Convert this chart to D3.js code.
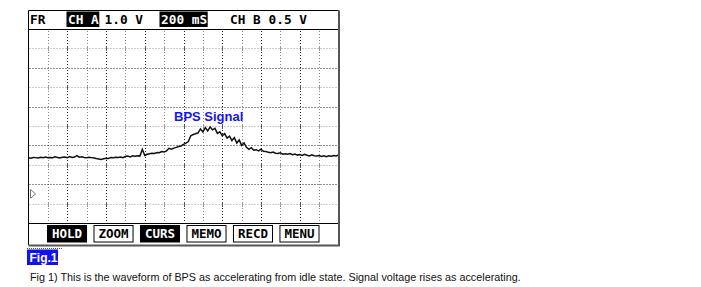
<!DOCTYPE html>
<html>
<head>
<meta charset="utf-8">
<script src="https://cdn.jsdelivr.net/npm/d3@7"></script>
<style>
  body { margin: 0; background: #fff; }
  svg { display: block; }
</style>
</head>
<body>
<div class="container"></div>
<script>
// scope settings
var msPerDiv = 200;
var numDivX = 16;
var header = [
    { text: "FR", x: 30, inv: false },
    { text: "CH A", x: 68, inv: true },
    { text: "1.0 V", x: 104.5, inv: false },
    { text: "200 mS", x: 161, inv: true },
    { text: "CH B 0.5 V", x: 230, inv: false }
];
var buttons = ["HOLD", "ZOOM", "CURS", "MEMO", "RECD", "MENU"];
var buttonOn = [true, false, true, false, false, false];

// BPS trace in volts, one sample every 25 ms (0 .. 3200 ms)
var sampleMs = 25;
var bpsVolts = [
    1.86, 1.84, 1.88, 1.87, 1.85, 1.89, 1.86, 1.90, 1.87, 1.88,
    1.86, 1.91, 1.88, 1.85, 1.89, 1.90, 1.87, 1.92, 1.88, 1.90,
    1.97, 1.89, 1.91, 1.88, 1.86, 1.89, 1.87, 1.85, 1.82, 1.80,
    1.78, 1.81, 1.84, 1.83, 1.87, 1.86, 1.89, 1.88, 1.90, 1.87,
    1.93, 1.95, 1.91, 1.96, 1.94, 1.97, 1.95, 2.30, 1.98, 2.04,
    2.07, 2.10, 2.08, 2.13, 2.12, 2.18, 2.16, 2.22, 2.35, 2.30,
    2.36, 2.40, 2.44, 2.47, 2.55, 2.62, 2.70, 3.00, 3.06, 3.10,
    3.15, 3.35, 3.20, 3.42, 3.25, 3.45, 3.30, 3.38, 3.12, 3.20,
    3.00, 3.10, 2.88, 2.98, 2.75, 2.90, 2.62, 2.78, 2.50, 2.62,
    2.40, 2.30, 2.38, 2.25, 2.28, 2.22, 2.30, 2.20, 2.18, 2.15,
    2.12, 2.16, 2.10, 2.08, 2.12, 2.05, 2.07, 2.04, 2.08, 2.02,
    2.05, 2.00, 2.03, 1.98, 2.04, 1.99, 1.96, 2.01, 1.97, 1.95,
    1.98, 1.93, 1.97, 1.92, 1.96, 1.94, 1.98, 1.95, 2.00
];
var gridVolts = [7.5, 6.5, 5.5, 4.5, 3.5, 2.5, 1.5, 0.5, -0.5];

var signalLabel = "BPS Signal";
var figLabel = "Fig.1";
var caption = "Fig 1) This is the waveform of BPS as accelerating from idle state. Signal voltage rises as accelerating.";

var width = 701, height = 287;
var frameL = 28.5, frameR = 338.5, frameT = 10.5, headBottom = 29, plotBottom = 223, frameB = 245;
var mono = "'DejaVu Sans Mono', monospace";

var svg = d3.select('.container')
    .append('svg')
    .attr('width', width)
    .attr('height', height)

var x = d3.scaleLinear().domain([0, msPerDiv * numDivX]).range([frameL, frameR]);
var y = d3.scaleLinear().domain([-1.5, 8.5]).range([plotBottom, headBottom]);

// screen background
svg.append('rect')
    .attr('x', frameL).attr('y', frameT)
    .attr('width', frameR - frameL).attr('height', frameB - frameT)
    .attr('fill', '#fff')

// grid
var grid = svg.append('g').attr('class', 'grid');
var vTicks = d3.range(msPerDiv, msPerDiv * numDivX, msPerDiv);

grid.selectAll('line.v')
    .data(vTicks)
    .enter().append('line')
    .attr('class', 'v')
    .attr('x1', function (d) { return Math.round(x(d)) + 0.5 })
    .attr('x2', function (d) { return Math.round(x(d)) + 0.5 })
    .attr('y1', headBottom + 2)
    .attr('y2', plotBottom)
    .attr('stroke', function (d, i) { return i % 2 == 0 ? '#888' : '#222' })
    .attr('stroke-width', 1)
    .attr('stroke-dasharray', '1,2')

grid.selectAll('line.h')
    .data(gridVolts)
    .enter().append('line')
    .attr('class', 'h')
    .attr('x1', frameL + 1)
    .attr('x2', frameR)
    .attr('y1', function (d) { return Math.round(y(d)) + 0.5 })
    .attr('y2', function (d) { return Math.round(y(d)) + 0.5 })
    .attr('stroke', function (d, i) { return i % 2 == 0 ? '#999' : '#222' })
    .attr('stroke-width', 1)
    .attr('stroke-dasharray', '1,2')

// little tick marks on the gray rows
gridVolts.forEach(function (v, i) {
    if (i % 2 != 0) return;
    grid.selectAll(null)
        .data(vTicks)
        .enter().append('line')
        .attr('x1', function (d) { return Math.round(x(d)) + 0.5 })
        .attr('x2', function (d) { return Math.round(x(d)) + 0.5 })
        .attr('y1', Math.round(y(v)) - 2)
        .attr('y2', Math.round(y(v)) + 3)
        .attr('stroke', function (d, j) { return j % 2 == 0 ? '#999' : '#555' })
})

// ground marker
var gy = y(0);
svg.append('path')
    .attr('d', 'M' + (frameL + 2) + ',' + (gy - 4.5) + 'L' + (frameL + 7) + ',' + gy + 'L' + (frameL + 2) + ',' + (gy + 4.5) + 'Z')
    .attr('fill', 'none')
    .attr('stroke', '#777')

// trace
var line = d3.line()
    .x(function (d, i) { return x(i * sampleMs) })
    .y(function (d) { return y(d) })

svg.append('path')
    .datum(bpsVolts)
    .attr('d', line)
    .attr('fill', 'none')
    .attr('stroke', '#111')
    .attr('stroke-width', 1.5)
    .attr('stroke-linejoin', 'miter')

svg.append('text')
    .attr('x', 174).attr('y', 120.5)
    .attr('font-family', 'Arial, "Liberation Sans", sans-serif')
    .attr('font-weight', 'bold')
    .attr('font-size', '13px')
    .attr('fill', '#1414f5')
    .text(signalLabel)

// header row
var head = svg.append('g');
header.forEach(function (h) {
    var w = h.text.length * 7.7;
    if (h.inv) {
        head.append('rect')
            .attr('x', h.x - 1.5).attr('y', 11.5)
            .attr('width', w + 2).attr('height', 15.5)
            .attr('fill', '#000')
    }
    head.append('text')
        .attr('x', h.x).attr('y', 23.5)
        .attr('font-family', mono)
        .attr('font-weight', 'bold')
        .attr('font-size', '12.8px')
        .attr('fill', h.inv ? '#fff' : '#000')
        .text(h.text)
})

svg.append('line')
    .attr('x1', frameL).attr('x2', frameR)
    .attr('y1', headBottom + 0.5).attr('y2', headBottom + 0.5)
    .attr('stroke', '#000')

svg.append('line')
    .attr('x1', frameL).attr('x2', frameR)
    .attr('y1', plotBottom + 0.5).attr('y2', plotBottom + 0.5)
    .attr('stroke', '#000')

// soft keys
var bx = d3.scaleBand().domain(buttons).range([47.5, 319]).paddingInner(0.16);
var keys = svg.append('g').selectAll('g')
    .data(buttons)
    .enter().append('g')

keys.append('rect')
    .attr('x', function (d) { return bx(d) })
    .attr('y', 225.5)
    .attr('width', bx.bandwidth())
    .attr('height', 16.5)
    .attr('fill', function (d, i) { return buttonOn[i] ? '#000' : '#fff' })
    .attr('stroke', '#000')
    .attr('stroke-width', 1)

keys.append('text')
    .attr('x', function (d) { return bx(d) + bx.bandwidth() / 2 })
    .attr('y', 238)
    .attr('text-anchor', 'middle')
    .attr('font-family', mono)
    .attr('font-weight', 'bold')
    .attr('font-size', '12.5px')
    .attr('fill', function (d, i) { return buttonOn[i] ? '#fff' : '#000' })
    .text(function (d) { return d })

// outer frame with shadow edges
svg.append('path')
    .attr('d', 'M' + frameL + ',' + frameB + 'V' + frameT + 'H' + frameR)
    .attr('fill', 'none')
    .attr('stroke', '#000')
svg.append('path')
    .attr('d', 'M' + (frameR + 0.5) + ',' + frameT + 'V' + (frameB + 0.5) + 'H' + frameL)
    .attr('fill', 'none')
    .attr('stroke', '#555')
    .attr('stroke-width', 2)

// figure tag and caption
svg.append('line')
    .attr('x1', 27).attr('x2', 62)
    .attr('y1', 248.5).attr('y2', 248.5)
    .attr('stroke', '#3a3aff')
    .attr('stroke-dasharray', '1,1')
svg.append('rect')
    .attr('x', 27).attr('y', 249.5)
    .attr('width', 31).attr('height', 15.5)
    .attr('fill', '#1212f0')
svg.append('text')
    .attr('x', 29.5).attr('y', 262)
    .attr('font-family', 'Arial, "Liberation Sans", sans-serif')
    .attr('font-weight', 'bold')
    .attr('font-size', '12px')
    .attr('fill', '#fff')
    .text(figLabel)

svg.append('text')
    .attr('x', 30).attr('y', 281)
    .attr('font-family', 'Arial, "Liberation Sans", sans-serif')
    .attr('font-size', '10.8px')
    .attr('fill', '#111')
    .text(caption)
</script>
</body>
</html>
